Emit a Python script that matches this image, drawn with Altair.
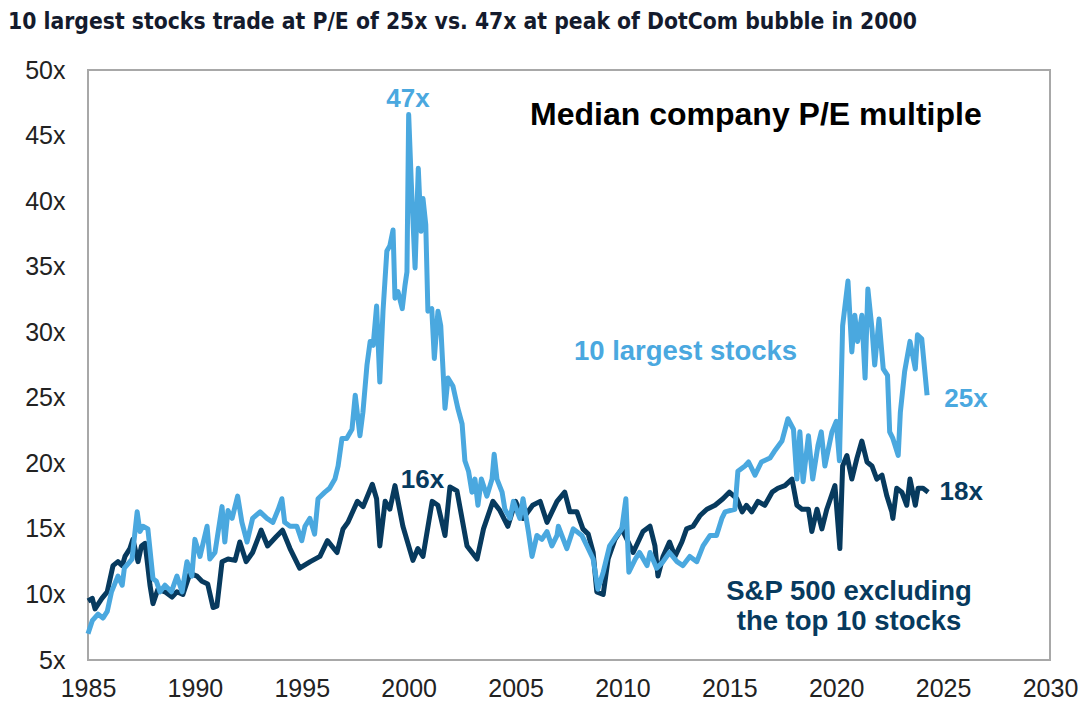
import altair as alt
import pandas as pd

# 10 largest stocks, median P/E (light blue)
big_year = [1985.0, 1985.2, 1985.47, 1985.7, 1985.9, 1986.1, 1986.4, 1986.6, 1986.7, 1987.06,
            1987.3, 1987.43, 1987.57, 1987.8, 1988.04, 1988.2, 1988.37, 1988.6, 1988.9, 1989.16,
            1989.4, 1989.63, 1989.86, 1990.0, 1990.24, 1990.57, 1990.7, 1990.94, 1991.27, 1991.4,
            1991.55, 1991.74, 1992.0, 1992.2, 1992.44, 1992.7, 1993.05, 1993.37, 1993.65, 1993.9,
            1994.07, 1994.2, 1994.45, 1994.77, 1995.0, 1995.15, 1995.38, 1995.6, 1995.76, 1996.08,
            1996.3, 1996.55, 1996.7, 1996.88, 1997.1, 1997.35, 1997.5, 1997.72, 1997.86, 1998.05,
            1998.2, 1998.34, 1998.5, 1998.65, 1998.8, 1998.98, 1999.12, 1999.27, 1999.36, 1999.5,
            1999.7, 1999.83, 1999.92, 2000.0, 2000.12, 2000.3, 2000.45, 2000.58, 2000.67, 2000.8,
            2000.9, 2001.08, 2001.2, 2001.37, 2001.5, 2001.7, 2001.84, 2002.07, 2002.3, 2002.5,
            2002.63, 2002.8, 2002.96, 2003.1, 2003.24, 2003.4, 2003.66, 2003.9, 2004.0, 2004.13,
            2004.37, 2004.5, 2004.74, 2004.9, 2005.2, 2005.35, 2005.6, 2005.77, 2006.0, 2006.23,
            2006.47, 2006.7, 2006.94, 2007.0, 2007.4, 2007.7, 2008.1, 2008.34, 2008.63, 2008.85,
            2009.1, 2009.4, 2009.74, 2009.97, 2010.16, 2010.3, 2010.6, 2010.8, 2011.15, 2011.29,
            2011.6, 2011.9, 2012.2, 2012.55, 2012.83, 2013.15, 2013.48, 2013.77, 2014.1, 2014.4,
            2014.65, 2014.8, 2015.26, 2015.4, 2015.73, 2015.9, 2016.2, 2016.5, 2016.9, 2017.1,
            2017.46, 2017.74, 2018.0, 2018.16, 2018.3, 2018.45, 2018.7, 2018.9, 2019.15, 2019.3,
            2019.47, 2019.8, 2020.0, 2020.15, 2020.3, 2020.55, 2020.73, 2020.87, 2021.0, 2021.2,
            2021.35, 2021.48, 2021.67, 2021.8, 2022.0, 2022.2, 2022.4, 2022.5, 2022.65, 2022.9,
            2023.0, 2023.2, 2023.45, 2023.7, 2023.8, 2024.0, 2024.25]
big_pe = [7.0, 8.0, 8.5, 8.2, 8.7, 10.2, 11.4, 10.7, 12.0, 12.7,
          16.3, 14.8, 15.2, 15.0, 11.2, 11.0, 10.2, 10.7, 10.2, 11.4,
          10.2, 12.5, 11.4, 14.2, 12.9, 15.2, 12.7, 13.2, 16.7, 14.0,
          16.4, 15.8, 17.5, 15.5, 14.0, 15.8, 16.3, 15.8, 15.5, 16.5,
          17.3, 15.5, 15.2, 15.2, 14.1, 15.2, 15.8, 14.6, 17.3, 17.8,
          18.1, 18.8, 19.8, 21.9, 21.9, 22.6, 25.2, 22.1, 23.9, 27.5,
          29.3, 29.0, 32.0, 26.2, 31.6, 36.2, 36.6, 37.8, 32.6, 33.1,
          31.8, 33.6, 34.6, 46.6, 41.5, 34.9, 42.5, 37.7, 40.2, 38.2,
          31.6, 31.8, 28.0, 31.6, 30.5, 24.2, 26.5, 25.9, 24.2, 23.0,
          20.2, 19.4, 17.8, 18.8, 16.8, 18.8, 17.5, 18.8, 20.7, 18.8,
          17.8, 16.5, 15.8, 17.1, 15.8, 17.3, 14.8, 12.9, 14.5, 14.2,
          14.8, 13.7, 14.5, 15.2, 13.5, 15.0, 14.5, 13.7, 12.7, 10.4,
          11.7, 13.7, 14.5, 15.0, 17.3, 11.7, 12.7, 13.2, 12.2, 13.2,
          12.0, 12.5, 13.2, 12.5, 12.2, 12.9, 12.5, 13.7, 14.5, 14.5,
          15.8, 16.3, 16.5, 19.4, 19.8, 20.1, 19.1, 20.1, 20.4, 20.9,
          21.7, 23.4, 22.6, 18.8, 22.4, 18.6, 22.1, 18.8, 21.4, 22.4,
          19.8, 22.4, 23.2, 20.2, 30.5, 33.9, 28.5, 31.3, 29.3, 31.3,
          26.5, 33.3, 30.3, 27.5, 31.0, 27.2, 26.7, 22.4, 21.9, 20.6,
          23.9, 27.0, 29.3, 27.2, 29.8, 29.5, 25.2]

# S&P 500 excluding the top 10 stocks (dark navy)
rest_year = [1985.0, 1985.2, 1985.33, 1985.65, 1985.9, 1986.17, 1986.4, 1986.6, 1986.73, 1986.96,
             1987.1, 1987.34, 1987.5, 1987.67, 1987.9, 1988.04, 1988.27, 1988.6, 1988.93, 1989.16,
             1989.44, 1989.77, 1990.1, 1990.33, 1990.6, 1990.85, 1991.03, 1991.27, 1991.55, 1991.88,
             1992.1, 1992.4, 1992.7, 1993.1, 1993.4, 1993.8, 1994.1, 1994.45, 1994.9, 1995.4,
             1995.85, 1996.2, 1996.65, 1996.93, 1997.16, 1997.6, 1997.87, 1998.3, 1998.5, 1998.65,
             1998.9, 1999.12, 1999.36, 1999.73, 2000.2, 2000.43, 2000.67, 2001.1, 2001.37, 2001.7,
             2001.93, 2002.26, 2002.73, 2003.2, 2003.5, 2003.94, 2004.27, 2004.64, 2005.0, 2005.35,
             2005.8, 2006.15, 2006.47, 2006.94, 2007.3, 2007.54, 2007.87, 2008.15, 2008.4, 2008.63,
             2008.8, 2009.1, 2009.33, 2009.65, 2009.97, 2010.27, 2010.5, 2010.73, 2010.96, 2011.29,
             2011.52, 2011.66, 2011.9, 2012.2, 2012.46, 2012.78, 2013.0, 2013.3, 2013.62, 2013.95,
             2014.33, 2014.7, 2015.0, 2015.35, 2015.6, 2015.8, 2016.05, 2016.34, 2016.66, 2017.0,
             2017.27, 2017.6, 2017.93, 2018.16, 2018.4, 2018.7, 2018.86, 2019.1, 2019.33, 2019.56,
             2019.94, 2020.17, 2020.3, 2020.5, 2020.73, 2020.97, 2021.2, 2021.44, 2021.67, 2021.9,
             2022.14, 2022.37, 2022.6, 2022.65, 2022.83, 2023.07, 2023.3, 2023.45, 2023.7, 2023.83,
             2024.06, 2024.3]
rest_pe = [9.5, 9.7, 8.9, 9.7, 10.2, 12.2, 12.5, 12.2, 12.9, 13.5,
           14.2, 12.5, 13.7, 13.9, 10.7, 9.3, 10.4, 10.2, 9.8, 10.2,
           10.0, 11.6, 11.4, 11.0, 10.8, 9.0, 9.1, 12.5, 12.7, 12.6,
           14.0, 12.5, 13.2, 14.9, 13.7, 14.4, 14.9, 13.5, 12.0, 12.5,
           12.9, 14.1, 13.2, 15.0, 15.5, 17.1, 16.7, 18.4, 17.3, 13.7,
           17.1, 16.5, 18.3, 15.2, 12.6, 13.5, 12.9, 17.1, 16.8, 14.5,
           18.2, 17.9, 13.7, 12.7, 15.0, 17.1, 16.4, 15.2, 17.1, 15.8,
           16.8, 17.1, 15.5, 17.1, 17.8, 16.3, 16.3, 15.0, 14.6, 13.2,
           10.2, 10.0, 12.7, 14.2, 15.0, 14.0, 13.2, 14.0, 14.8, 15.2,
           13.7, 11.4, 12.9, 14.0, 12.9, 14.0, 15.0, 15.2, 16.0, 16.5,
           16.8, 17.3, 17.8, 17.3, 16.3, 16.8, 16.3, 17.1, 16.8, 17.8,
           18.1, 18.3, 18.8, 16.8, 16.5, 16.5, 14.8, 16.5, 15.0, 16.5,
           18.3, 13.5, 19.8, 20.6, 18.8, 20.4, 21.7, 20.1, 19.8, 18.8,
           19.1, 17.5, 16.3, 15.8, 18.1, 17.8, 16.8, 18.8, 16.8, 18.1,
           18.1, 17.8]

x_ticks = [1985, 1990, 1995, 2000, 2005, 2010, 2015, 2020, 2025, 2030]
y_ticks = [5, 10, 15, 20, 25, 30, 35, 40, 45, 50]

LIGHT = "#4AA8DF"
DARK = "#073A5E"

# value-call-out annotations
val_text = ["47x", "16x", "25x", "18x"]
val_year = [1999.97, 2000.65, 2026.07, 2025.85]
val_pe = [47.2, 18.1, 24.3, 17.2]
val_color = ["light", "dark", "light", "dark"]

# series name annotations
name_text = ["10 largest stocks", "S&P 500 excluding", "the top 10 stocks"]
name_year = [2012.95, 2020.6, 2020.6]
name_pe = [27.9, 9.6, 7.3]
name_color = ["light", "dark", "dark"]

big_df = pd.DataFrame({"year": big_year, "pe": big_pe})
rest_df = pd.DataFrame({"year": rest_year, "pe": rest_pe})
val_df = pd.DataFrame({"text": val_text, "year": val_year, "pe": val_pe, "c": val_color})
name_df = pd.DataFrame({"text": name_text, "year": name_year, "pe": name_pe, "c": name_color})

FONT = "Liberation Sans, Arial, Helvetica, sans-serif"
cscale = alt.Scale(domain=["light", "dark"], range=[LIGHT, DARK])

xenc = alt.X("year:Q", scale=alt.Scale(domain=[1985, 2030], nice=False, zero=False),
             axis=alt.Axis(values=x_ticks, format="d", title=None, ticks=False, domain=False,
                           grid=False, labelFontSize=25, labelFont=FONT, labelColor="#222222",
                           labelPadding=16, labelFlush=False))
yenc = alt.Y("pe:Q", scale=alt.Scale(domain=[5, 50], nice=False, zero=False),
             axis=alt.Axis(values=y_ticks, labelExpr="datum.value + 'x'", title=None,
                           ticks=False, domain=False, grid=False, labelFontSize=25,
                           labelFont=FONT, labelColor="#222222", labelPadding=23,
                           labelFlush=False))

rest_line = alt.Chart(rest_df).mark_line(color=DARK, strokeWidth=5, strokeJoin="round").encode(
    x=xenc, y=yenc)
big_line = alt.Chart(big_df).mark_line(color=LIGHT, strokeWidth=5, strokeJoin="round").encode(
    x="year:Q", y="pe:Q")

vals = alt.Chart(val_df).mark_text(font=FONT, fontWeight="bold", fontSize=26,
                                   baseline="alphabetic", align="center").encode(
    x="year:Q", y="pe:Q", text="text:N",
    color=alt.Color("c:N", scale=cscale, legend=None))

names = alt.Chart(name_df).mark_text(font=FONT, fontWeight="bold", fontSize=27.5,
                                     baseline="alphabetic", align="center").encode(
    x="year:Q", y="pe:Q", text="text:N",
    color=alt.Color("c:N", scale=cscale, legend=None))

median_lbl = alt.Chart(pd.DataFrame({"text": ["Median company P/E multiple"],
                                     "year": [2005.68], "pe": [45.8]})).mark_text(
    font=FONT, fontWeight="bold", fontSize=32, baseline="alphabetic", align="left",
    color="#000000").encode(x="year:Q", y="pe:Q", text="text:N")

chart = alt.layer(rest_line, big_line, vals, names, median_lbl).properties(
    width=962, height=590,
    title=alt.TitleParams(
        "10 largest stocks trade at P/E of 25x vs. 47x at peak of DotCom bubble in 2000",
        anchor="start", frame="group", dx=-80, offset=24,
        font="Liberation Sans Narrow, DejaVu Sans Condensed, Roboto Condensed, sans-serif",
        fontSize=22.7, fontWeight="bold", color="#141B2D"),
    autosize=alt.AutoSizeParams(type="none"),
    padding={"left": 80, "top": 62, "right": 29, "bottom": 50},
).configure_view(stroke="#A8A8A8", strokeWidth=2)

chart.save("out.html", embed_options={"renderer": "svg", "actions": False})
